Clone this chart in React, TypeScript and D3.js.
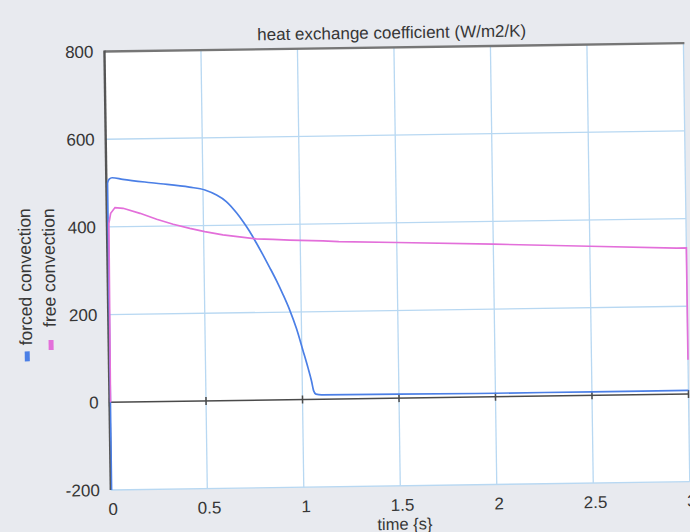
import React from "react";
import * as d3 from "d3";

const chartTitle = "heat exchange coefficient (W/m2/K)";
const xAxisLabel = "time {s}";
const seriesNames = ["forced convection", "free convection"];
const seriesColors = ["#4b7fe6", "#e36fda"];

const yTicks = [-200, 0, 200, 400, 600, 800];
const yTickLabels = ["-200", "0", "200", "400", "600", "800"];
const xTicks = [0, 0.5, 1, 1.5, 2, 2.5, 3];
const xTickLabels = ["0", "0.5", "1", "1.5", "2", "2.5", "3"];

const forcedT = [0.004, 0.006, 0.015, 0.03, 0.085, 0.258, 0.43, 0.51, 0.57, 0.62, 0.672, 0.705, 0.739, 0.772, 0.806, 0.84, 0.874, 0.907, 0.94, 0.974, 1.006, 1.031, 1.048, 1.058, 1.07, 1.1, 1.5, 2, 2.5, 3];
const forcedV = [-200, 500, 509, 512, 508, 498, 488, 481, 469, 454, 428, 408, 385, 359, 331, 302, 272, 240, 205, 162, 112, 72, 42, 20, 12, 10, 9, 8, 8, 8];

const freeT = [0.005, 0.01, 0.02, 0.043, 0.085, 0.172, 0.258, 0.343, 0.429, 0.506, 0.6, 0.686, 0.772, 0.858, 0.945, 1.117, 1.2, 1.5, 2.0, 2.5, 2.95, 3.0, 3.0];
const freeV = [0, 408, 431, 444, 442, 430, 416, 404, 394, 386, 378, 373, 368, 366, 364, 361, 359, 355, 348, 340, 333, 333, 78];

export default function App() {
  const W = 690, H = 532;
  const L = 107.6, R = 686.6, T = 47.35, B = 485.85;
  const cx = 397.1, cy = 266.6, angle = -0.83;
  const x = d3.scaleLinear().domain([0, 3]).range([L, R]);
  const y = d3.scaleLinear().domain([-200, 800]).range([B, T]);
  const smooth = d3.line<[number, number]>().x((d) => x(d[0])).y((d) => y(d[1])).curve(d3.curveMonotoneX);
  const line = d3.line<[number, number]>().x((d) => x(d[0])).y((d) => y(d[1]));
  const forcedPath = smooth(forcedT.map((t, i) => [t, forcedV[i]] as [number, number])) || "";
  const freePath = line(freeT.map((t, i) => [t, freeV[i]] as [number, number])) || "";
  const grid = "#b8d8f2";
  const font = "'Liberation Sans', Arial, sans-serif";
  const txt = "#363636";
  const y0 = y(0);

  return (
    <svg width={W} height={H} style={{ position: "absolute", left: 0, top: 0 }}>
      <rect x={0} y={0} width={W} height={H} fill="#e8eaef" />
      <defs>
        <clipPath id="plotclip">
          <rect x={L} y={T - 1} width={R - L + 2} height={B - T + 2} />
        </clipPath>
      </defs>
      <g transform={`rotate(${angle}, ${cx}, ${cy})`}>
        <rect x={L} y={T} width={R - L} height={B - T} fill="#ffffff" />
        {yTicks.filter((v) => v !== 0 && v !== 800).map((v) => (
          <line key={"gy" + v} x1={L} x2={R} y1={y(v)} y2={y(v)} stroke={grid} strokeWidth={1.3} />
        ))}
        {xTicks.filter((v) => v !== 0).map((v) => (
          <line key={"gx" + v} x1={x(v)} x2={x(v)} y1={T} y2={B} stroke={grid} strokeWidth={1.3} />
        ))}
        <line x1={L} x2={R} y1={y0} y2={y0} stroke="#4a4a4a" strokeWidth={1.5} />
        {xTicks.map((v) => (
          <line key={"tk" + v} x1={x(v)} x2={x(v)} y1={y0 - 4} y2={y0 + 4} stroke="#4a4a4a" strokeWidth={1.5} />
        ))}
        <line x1={L} x2={R + 1} y1={T} y2={T} stroke="#767676" strokeWidth={2.4} />
        <line x1={L} x2={L} y1={T - 1} y2={B} stroke="#555555" strokeWidth={2.4} />
        <g clipPath="url(#plotclip)">
          <path d={forcedPath} fill="none" stroke={seriesColors[0]} strokeWidth={1.7} />
          <path d={freePath} fill="none" stroke={seriesColors[1]} strokeWidth={1.7} />
        </g>
        <text x={(L + R) / 2 - 2} y={T - 9} textAnchor="middle" fontFamily={font} fontSize={17} fill={txt}>
          {chartTitle}
        </text>
        {yTicks.map((v, i) => (
          <text key={"yl" + v} x={L - 11} y={y(v)} dy="0.35em" textAnchor="end" fontFamily={font} fontSize={17} fill={txt}>
            {yTickLabels[i]}
          </text>
        ))}
        {xTicks.map((v, i) => (
          <text key={"xl" + v} x={x(v) + 2} y={B + 25} textAnchor="middle" fontFamily={font} fontSize={17} fill={txt}>
            {xTickLabels[i]}
          </text>
        ))}
        <text x={(L + R) / 2 + 4} y={B + 44} textAnchor="middle" fontFamily={font} fontSize={16.5} fill={txt}>
          {xAxisLabel}
        </text>
        <text transform="translate(31, 340) rotate(-90)" fontFamily={font} fontSize={17.5} fill={txt}>
          {seriesNames[0]}
        </text>
        <rect x={23.5} y={346} width={5} height={10} fill={seriesColors[0]} />
        <text transform="translate(55, 322) rotate(-90)" fontFamily={font} fontSize={17.5} fill={txt}>
          {seriesNames[1]}
        </text>
        <rect x={47.5} y={335} width={5} height={10} fill={seriesColors[1]} />
      </g>
    </svg>
  );
}
